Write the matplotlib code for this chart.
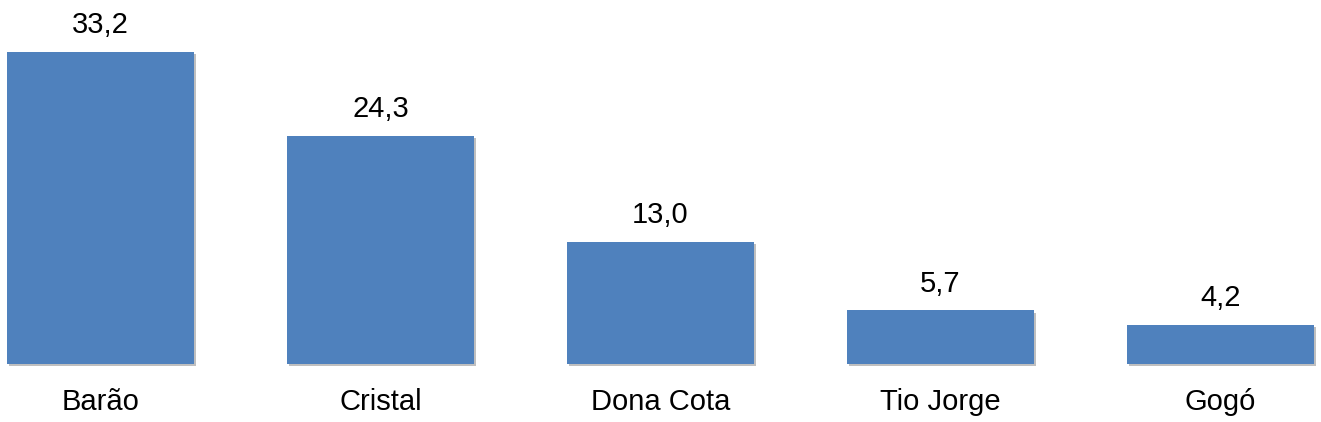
import matplotlib
matplotlib.use('Agg')
import matplotlib.pyplot as plt
import matplotlib.patheffects as pe

categories = ['Barão', 'Cristal', 'Dona Cota', 'Tio Jorge', 'Gogó']
values = [33.2, 24.3, 13.0, 5.7, 4.2]
labels = ['33,2', '24,3', '13,0', '5,7', '4,2']

plt.rcParams['font.family'] = ['Liberation Sans', 'DejaVu Sans']

fig = plt.figure(figsize=(13.21, 4.22), dpi=100)
# axes bottom at the bar baseline (58 px from bottom)
ax = fig.add_axes([0, 58 / 422, 1, 364 / 422])

x = range(len(categories))
bars = ax.bar(x, values, width=0.668, color='#4F81BD', zorder=2)
for b in bars:
    b.set_clip_on(False)
    b.set_path_effects([pe.SimplePatchShadow(offset=(1.5, -1.5), shadow_rgbFace='#808080', alpha=0.5),
                        pe.Normal()])

for i, v in enumerate(values):
    ax.annotate(labels[i], (i, v), xytext=(0, 9), textcoords='offset points',
                ha='center', va='bottom', fontsize=21)

# 280 px per category, first centre at 100.5 px
ax.set_xlim(-100.5 / 280, -100.5 / 280 + 1321 / 280)
ax.set_ylim(0, 364 / 9.4)

ax.set_xticks(list(x))
ax.set_xticklabels(categories, fontsize=21)
ax.tick_params(axis='x', length=0, pad=17)
ax.set_yticks([])
for s in ax.spines.values():
    s.set_visible(False)

fig.savefig('out.png', dpi=100)
